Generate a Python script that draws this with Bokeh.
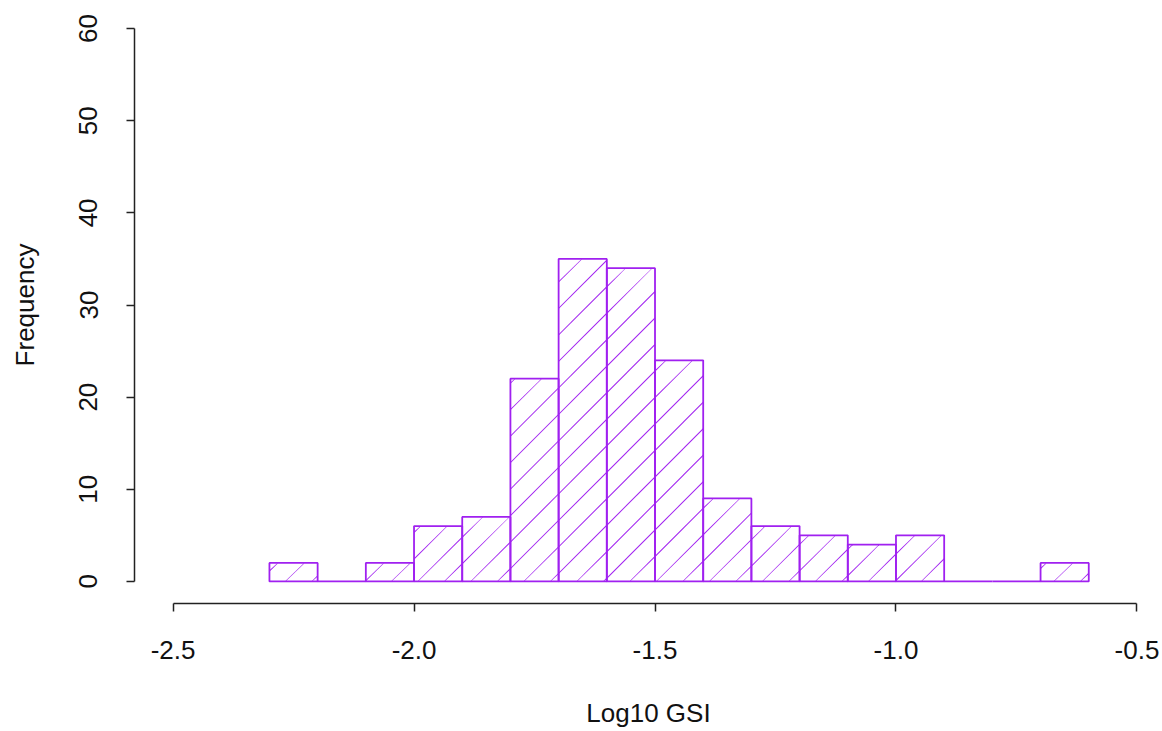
import numpy as np
from bokeh.plotting import figure
from bokeh.models import Range1d, FixedTicker, ColumnDataSource
from bokeh.embed import file_html
from bokeh.resources import INLINE

# histogram data (bins of width 0.1)
bin_left = [-2.3, -2.2, -2.1, -2.0, -1.9, -1.8, -1.7, -1.6, -1.5, -1.4, -1.3, -1.2, -1.1, -1.0, -0.9, -0.8, -0.7]
bin_right = [-2.2, -2.1, -2.0, -1.9, -1.8, -1.7, -1.6, -1.5, -1.4, -1.3, -1.2, -1.1, -1.0, -0.9, -0.8, -0.7, -0.6]
counts = [2, 0, 2, 6, 7, 22, 35, 34, 24, 9, 6, 5, 4, 5, 0, 0, 2]
x_ticks = [-2.5, -2.0, -1.5, -1.0, -0.5]
y_ticks = [0, 10, 20, 30, 40, 50, 60]

PURPLE = "#A020F0"
FONT = "Liberation Sans"

W, H = 1162, 731
BL, BR, BT, BB = 134, 0, 6, 128
X0, X1 = -2.58, -0.447
Y0, Y1 = -2.4, 62.4

p = figure(width=W, height=H, output_backend="svg", toolbar_location=None,
           x_range=Range1d(X0, X1), y_range=Range1d(Y0, Y1),
           min_border_left=BL, min_border_right=BR, min_border_top=BT, min_border_bottom=BB)
p.outline_line_color = None
p.xgrid.visible = False
p.ygrid.visible = False
p.background_fill_color = "white"

# R-style 45 degree shading lines ("density" hatching), clipped to each bar,
# drawn as thin filled strips
kx = (W - BL - BR) / (X1 - X0)   # px per x unit
ky = (H - BT - BB) / (Y1 - Y0)   # px per y unit
spacing, phase, half = 26.5, 23.0, 0.7
xs, ys = [], []
for l, r, c in zip(bin_left, bin_right, counts):
    if c <= 0:
        continue
    xa, xb = (l - X0) * kx, (r - X0) * kx
    ya, yb = (0 - Y0) * ky, (c - Y0) * ky
    k_lo = int(np.floor((xa - yb - phase) / spacing))
    k_hi = int(np.ceil((xb - ya - phase) / spacing))
    for k in range(k_lo, k_hi + 1):
        cc = phase + k * spacing          # line: u - v = cc
        lo = max(xa, ya + cc)
        hi = min(xb, yb + cc)
        if hi - lo > 0.5:
            px = [lo, hi, hi, lo]
            py = [lo - cc - half, hi - cc - half, hi - cc + half, lo - cc + half]
            py = [min(max(v, ya), yb) for v in py]
            xs.append([v / kx + X0 for v in px])
            ys.append([v / ky + Y0 for v in py])

hatch_src = ColumnDataSource(dict(xs=xs, ys=ys))
p.patches(xs="xs", ys="ys", fill_color=PURPLE, line_color=None, source=hatch_src)

p.quad(left=bin_left, right=bin_right, bottom=0, top=counts,
       fill_color=None, line_color=PURPLE, line_width=1.8)

for ax in (p.xaxis[0], p.yaxis[0]):
    ax.axis_line_color = "#222222"
    ax.axis_line_width = 1.5
    ax.major_tick_line_color = "#222222"
    ax.major_tick_line_width = 1.5
    ax.major_tick_out = 8
    ax.major_tick_in = 0
    ax.minor_tick_line_color = None
    ax.major_label_text_font = FONT
    ax.major_label_text_font_size = "26px"
    ax.major_label_text_color = "#111111"
    ax.axis_label_text_font = FONT
    ax.axis_label_text_font_size = "26px"
    ax.axis_label_text_font_style = "normal"
    ax.axis_label_text_color = "#111111"

p.xaxis.ticker = FixedTicker(ticks=x_ticks)
p.xaxis.bounds = (-2.5, -0.5)
p.xaxis.major_label_overrides = {t: f"{t:.1f}" for t in x_ticks}
p.xaxis.major_label_standoff = 29
p.xaxis.axis_label = "Log10 GSI"
p.xaxis.axis_label_standoff = 36

p.yaxis.ticker = FixedTicker(ticks=y_ticks)
p.yaxis.bounds = (0, 60)
p.yaxis.major_label_orientation = "vertical"
p.yaxis.major_label_standoff = 29
p.yaxis.axis_label = "Frequency"
p.yaxis.axis_label_standoff = 37

open("out.html", "w").write(file_html(p, INLINE))
